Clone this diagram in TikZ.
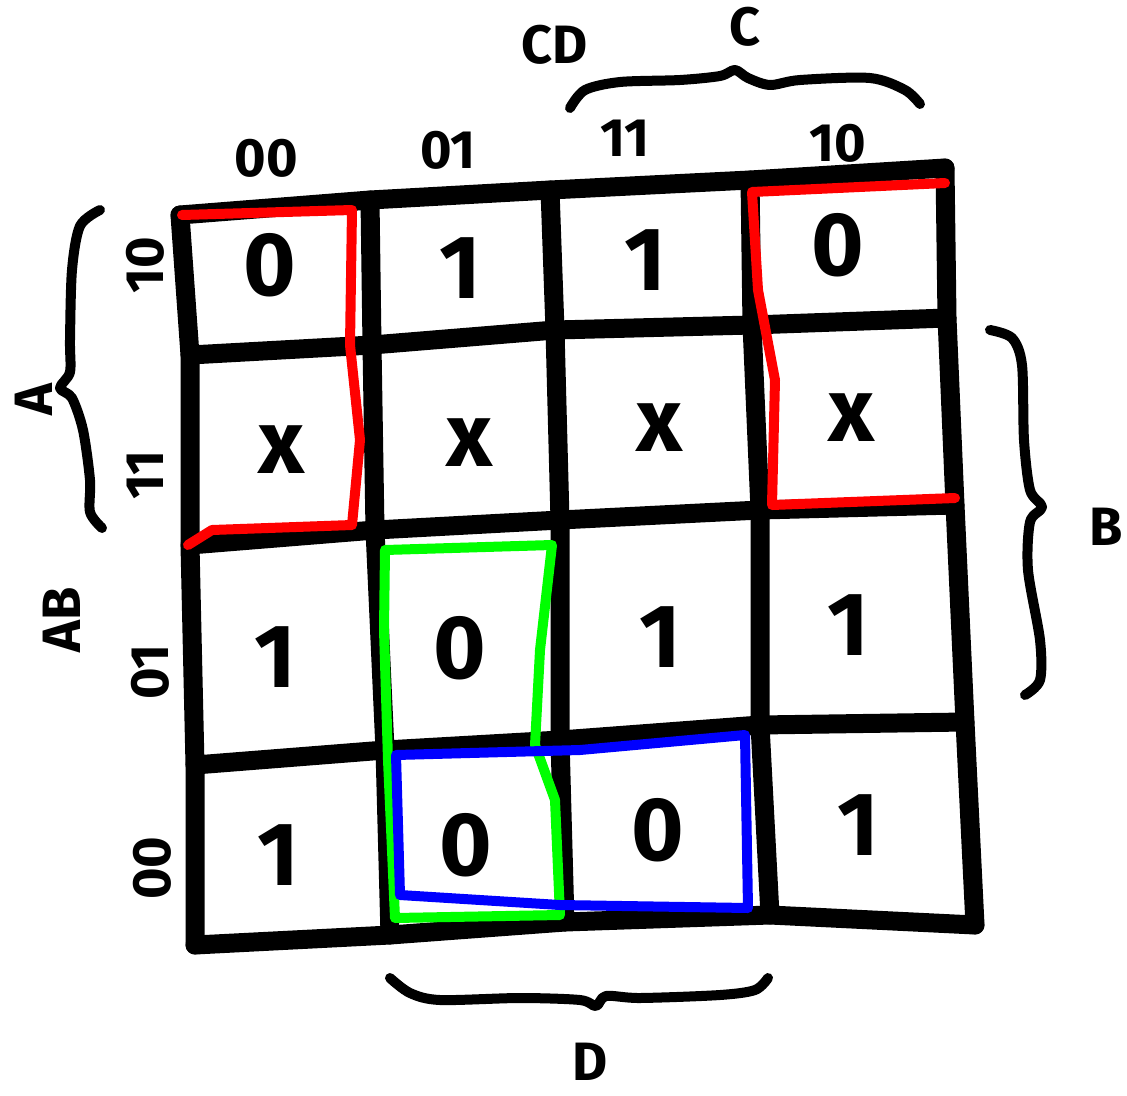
\documentclass[tikz,border=0pt]{standalone}
\usepackage{fontspec}
\setsansfont{Fira Sans}
\begin{document}
\begin{tikzpicture}[x=1pt,y=-1pt,
  gridline/.style={line width=19pt, line cap=round, line join=round},
  bracel/.style={line width=10pt, line cap=round, line join=round},
  loop/.style={line width=10pt, line join=round, line cap=round},
  cellval/.style={font=\sffamily\bfseries\fontsize{90}{90}\selectfont},
  lab/.style={font=\sffamily\bfseries\fontsize{54}{54}\selectfont},
  rowlab/.style={lab, rotate=90}]
\useasboundingbox (0,0) rectangle (1127,1095);
% grid intersections
\coordinate (p00) at (180,215); \coordinate (p01) at (370,200); \coordinate (p02) at (550,190); \coordinate (p03) at (750,180); \coordinate (p04) at (945,168);
\coordinate (p10) at (190,355); \coordinate (p11) at (372,345); \coordinate (p12) at (555,330); \coordinate (p13) at (752,325); \coordinate (p14) at (947,318);
\coordinate (p20) at (190,545); \coordinate (p21) at (375,530); \coordinate (p22) at (560,520); \coordinate (p23) at (760,510); \coordinate (p24) at (955,505);
\coordinate (p30) at (195,765); \coordinate (p31) at (385,750); \coordinate (p32) at (560,740); \coordinate (p33) at (760,725); \coordinate (p34) at (965,722);
\coordinate (p40) at (195,945); \coordinate (p41) at (390,935); \coordinate (p42) at (565,922); \coordinate (p43) at (770,915); \coordinate (p44) at (975,925);
% horizontal lines
\foreach \r in {0,...,4} {\draw[gridline] (p\r0) -- (p\r1) -- (p\r2) -- (p\r3) -- (p\r4);}
% vertical lines
\foreach \c in {0,...,4} {\draw[gridline] (p0\c) -- (p1\c) -- (p2\c) -- (p3\c) -- (p4\c);}
% cell values
\node[cellval] (v11) at (270,265) {0};
\node[cellval] (v12) at (460,268) {1};
\node[cellval] (v13) at (645,260) {1};
\node[cellval] (v14) at (838,245) {0};
\node[cellval] (v21) at (282,450) {x};
\node[cellval] (v22) at (470,443) {x};
\node[cellval] (v23) at (660,428) {x};
\node[cellval] (v24) at (852,418) {x};
\node[cellval] (v31) at (275,657) {1};
\node[cellval] (v32) at (460,648) {0};
\node[cellval] (v33) at (660,637) {1};
\node[cellval] (v34) at (848,625) {1};
\node[cellval] (v41) at (278,855) {1};
\node[cellval] (v42) at (466,845) {0};
\node[cellval] (v43) at (658,830) {0};
\node[cellval] (v44) at (858,825) {1};
% column labels
\node[lab] (c00) at (266,158) {00};
\node[lab] (c01) at (448,150) {01};
\node[lab] (c11) at (625,138) {11};
\node[lab] (c10) at (838,143) {10};
\node[lab] (cd) at (555,45) {CD};
\node[lab] (cc) at (745,27) {C};
% row labels
\node[rowlab] (r10) at (145,265) {10};
\node[rowlab] (r11) at (145,475) {11};
\node[rowlab] (r01) at (150,672) {01};
\node[rowlab] (r00) at (152,868) {00};
\node[rowlab] (ab) at (62,620) {AB};
\node[rowlab] (aa) at (34,400) {A};
\node[lab] (bb) at (1106,527) {B};
\node[lab] (dd) at (590,1062) {D};
% braces
\draw[bracel] plot[smooth] coordinates {(100,210)(80,226)(72,270)(70,340)(70,372)(60,388)(72,398)(83,430)(90,480)(90,512)(102,528)};
\draw[bracel] plot[smooth] coordinates {(570,108)(585,90)(620,82)(680,80)(720,76)(735,70)(748,78)(770,85)(800,80)(870,78)(905,90)(920,104)};
\draw[bracel] plot[smooth] coordinates {(990,330)(1012,338)(1022,365)(1024,440)(1030,490)(1042,507)(1030,522)(1028,570)(1040,640)(1040,680)(1025,695)};
\draw[bracel] plot[smooth] coordinates {(390,978)(410,993)(440,1000)(520,998)(580,1000)(596,1006)(606,996)(640,998)(720,995)(755,990)(768,978)};
% red groups
\draw[loop, red] (182,215) -- (352,210) -- (350,345) -- (360,440) -- (352,525) -- (212,530) -- (188,545);
\draw[loop, red] (945,183) -- (752,192) -- (758,290) -- (775,380) -- (772,505) -- (955,498);
% green group
\draw[loop, green] (385,550) -- (552,545) -- (540,650) -- (535,745) -- (555,800) -- (560,915) -- (395,918) -- (388,760) -- (384,630) -- cycle;
% blue group
\draw[loop, blue] (396,755) -- (580,750) -- (745,735) -- (748,908) -- (560,905) -- (400,895) -- cycle;
\end{tikzpicture}
\end{document}
